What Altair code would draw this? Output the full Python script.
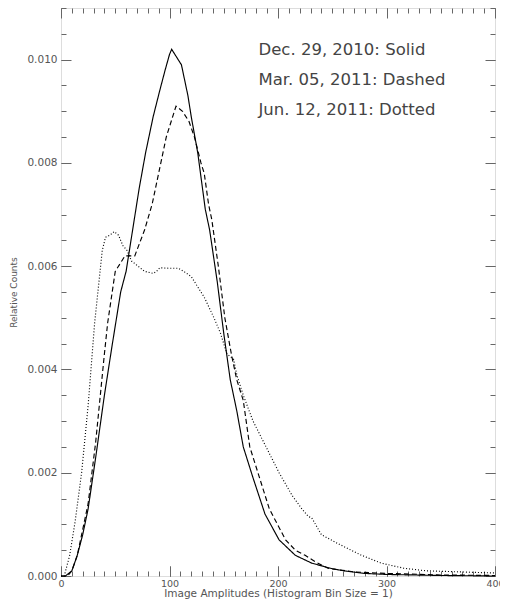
import altair as alt
import pandas as pd

# ---- data ----
series_names = ["Dec. 29, 2010", "Mar. 05, 2011", "Jun. 12, 2011"]
legend_texts = ["Dec. 29, 2010: Solid", "Mar. 05, 2011: Dashed", "Jun. 12, 2011: Dotted"]

solid_x = [0, 4, 10, 15, 20, 25, 32, 40, 47, 55, 60, 66, 72, 78, 85, 91, 96, 100, 102, 105,
           111, 117, 120, 126, 133, 137, 144, 150, 156, 162, 168, 177, 188, 201, 216, 231,
           250, 261, 280, 300, 350, 400]
solid_y = [0, 0, 0.0001, 0.0004, 0.0008, 0.0013, 0.0023, 0.0035, 0.00445, 0.0055, 0.0059,
           0.0067, 0.0075, 0.0082, 0.0089, 0.0094, 0.0098, 0.0101, 0.0102, 0.0101,
           0.0099, 0.0093, 0.0089, 0.0082, 0.0071, 0.0067, 0.0057, 0.0047, 0.0038, 0.0032,
           0.0025, 0.0019, 0.0012, 0.0007, 0.0004, 0.00025,
           0.00014, 0.0001, 0.00005, 0.00003, 0.00001, 0]

dashed_x = [0, 6, 10, 15, 20, 25, 32, 40, 43, 50, 59, 68, 77, 84, 91, 97, 100, 106, 112,
            118, 123, 129, 132, 136, 139, 145, 151, 157, 162, 168, 174, 183, 192, 207, 216,
            225, 234, 246, 270, 300, 350, 400]
dashed_y = [0, 0, 0.0001, 0.0004, 0.0009, 0.0014, 0.0026, 0.0043, 0.0049, 0.0059, 0.0062,
            0.0062, 0.0067, 0.0072, 0.0079, 0.0085, 0.0087, 0.0091, 0.0090,
            0.0088, 0.0085, 0.0080, 0.0078, 0.0072, 0.0069, 0.0060, 0.0050, 0.0043, 0.0038,
            0.0034, 0.0025, 0.0019, 0.0013, 0.0007, 0.0005,
            0.0004, 0.00028, 0.00015, 0.00008, 0.00005, 0.00002, 0.00001]

dotted_x = [0, 3, 8, 13, 19, 25, 31, 34, 38, 41, 45, 49, 53, 57, 61, 65, 71, 77, 85, 88,
            91, 99, 108, 113, 120, 126, 132, 141, 147, 153, 159, 162, 168, 177, 189, 201,
            213, 222, 228, 231, 240, 255, 276, 295, 316, 337, 367, 397, 400]
dotted_y = [0, 0, 0.0004, 0.00105, 0.0020, 0.0033, 0.0049, 0.0055, 0.0063, 0.00656, 0.0066,
            0.00667, 0.0066, 0.0064, 0.0063, 0.0061, 0.0060, 0.0059, 0.00586, 0.0059,
            0.00597, 0.00596, 0.00596, 0.0059, 0.0058, 0.0056, 0.0054, 0.0050, 0.0047,
            0.0043, 0.0042, 0.0039, 0.0035, 0.0030, 0.0025, 0.0020,
            0.00156, 0.0013, 0.00115, 0.00113, 0.0008, 0.00063, 0.00041, 0.00025, 0.00015,
            0.0001, 0.00008, 0.00006, 0.00006]

x_major = [0, 100, 200, 300, 400]
x_minor = list(range(0, 401, 10))
y_major = [0.0, 0.002, 0.004, 0.006, 0.008, 0.010]
y_minor = [round(i * 0.0005, 4) for i in range(0, 23)]

# ---- tables ----
rows = []
for name, xs, ys in zip(series_names, [solid_x, dashed_x, dotted_x], [solid_y, dashed_y, dotted_y]):
    for xv, yv in zip(xs, ys):
        rows.append({"series": name, "x": xv, "y": yv})
df = pd.DataFrame(rows)

legend_df = pd.DataFrame({
    "label": legend_texts,
    "x": [182, 182, 182],
    "y": [0.01019, 0.00960, 0.00902],
})

W, H = 434, 568
xscale = alt.Scale(domain=[0, 400], nice=False, zero=False)
yscale = alt.Scale(domain=[0, 0.011], nice=False, zero=False)

FRAME = "#8a8a8a"
TICK = "#666666"
LAB = "#555555"
FONT = "DejaVu Sans"

x_main_axis = alt.Axis(orient="bottom", values=x_major, tickSize=10, offset=-10, domain=False,
                       grid=False, labelPadding=2, labelFlush=False, labelFont=FONT,
                       labelFontSize=9.5, labelColor=LAB, tickColor=TICK, format="d",
                       title="Image Amplitudes (Histogram Bin Size = 1)", titleFont=FONT,
                       titleFontSize=10.5, titleFontWeight="normal", titleColor=LAB,
                       titlePadding=1)
y_main_axis = alt.Axis(orient="left", values=y_major, tickSize=10, offset=-10, domain=False,
                       grid=False, labelPadding=4, labelFont=FONT, labelFontSize=10.5,
                       labelColor=LAB, tickColor=TICK, format=".3f",
                       title="Relative Counts", titleFont=FONT, titleFontSize=9,
                       titleFontWeight="normal", titleColor=LAB, titlePadding=8)

lines = alt.Chart(df).mark_line(color="black", strokeWidth=1.15).encode(
    x=alt.X("x:Q", scale=xscale, axis=x_main_axis),
    y=alt.Y("y:Q", scale=yscale, axis=y_main_axis),
    strokeDash=alt.StrokeDash("series:N",
                              scale=alt.Scale(domain=series_names,
                                              range=[[1, 0], [5, 3], [1, 2]]),
                              legend=None),
    order=alt.Order("x:Q"),
)


def tick_axis(orient, values, size, offset):
    return alt.Axis(orient=orient, values=values, tickSize=size, offset=offset, domain=False,
                    grid=False, labels=False, title=None, tickColor=TICK)


def x_layer(orient, values, size, offset):
    return alt.Chart(df).mark_point(opacity=0, size=1).encode(
        x=alt.X("x:Q", scale=xscale, axis=tick_axis(orient, values, size, offset)),
        y=alt.Y("y:Q", scale=yscale, axis=None),
    )


def y_layer(orient, values, size):
    return alt.Chart(df).mark_point(opacity=0, size=1).encode(
        x=alt.X("x:Q", scale=xscale, axis=None),
        y=alt.Y("y:Q", scale=yscale, axis=tick_axis(orient, values, size, -size)),
    )


legend = alt.Chart(legend_df).mark_text(align="left", baseline="middle", font=FONT,
                                         fontSize=16.5, color="#444444").encode(
    x=alt.X("x:Q", scale=xscale, axis=None),
    y=alt.Y("y:Q", scale=yscale, axis=None),
    text="label:N",
)

chart = alt.layer(
    lines,
    # top-oriented tick axes moved to the bottom edge: their ticks point up into the plot
    x_layer("top", x_minor, 5, -H),
    x_layer("top", x_major, 10, -H),
    x_layer("top", x_major, 10, -10),
    x_layer("top", x_minor, 5, -5),
    y_layer("left", y_minor, 5),
    y_layer("right", y_major, 10),
    y_layer("right", y_minor, 5),
    legend,
).resolve_axis(x="independent", y="independent").properties(
    width=W,
    height=H,
    autosize=alt.AutoSizeParams(type="none"),
    padding={"left": 53, "right": 5, "top": 0, "bottom": 24},
).configure_view(stroke=FRAME, strokeWidth=1).configure(background="white")

chart.save("out.html", embed_options={"renderer": "svg", "actions": False})
